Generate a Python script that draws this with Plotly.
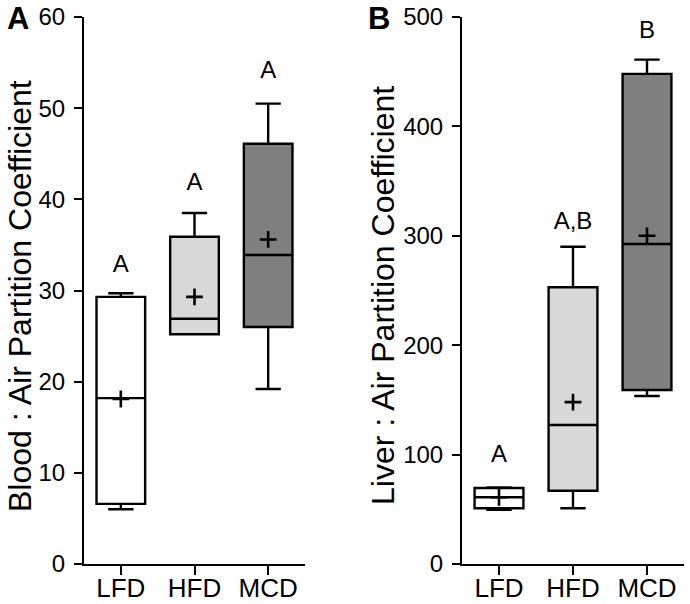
import plotly.graph_objects as go

categories = ["LFD", "HFD", "MCD"]
fills = ["#ffffff", "#d9d9d9", "#7f7f7f"]

# Panel A: Blood : Air
a_low = [6.0, 25.2, 19.2]
a_q1 = [6.6, 25.2, 26.0]
a_med = [18.2, 26.9, 33.9]
a_q3 = [29.3, 35.9, 46.1]
a_high = [29.7, 38.5, 50.5]
a_mean = [18.1, 29.3, 35.6]
a_letters = ["A", "A", "A"]
a_letter_y = [32.7, 41.7, 54.0]

# Panel B: Liver : Air
b_low = [49.5, 51.0, 153.5]
b_q1 = [51.0, 67.0, 159.0]
b_med = [61.0, 127.0, 292.5]
b_q3 = [69.5, 253.0, 448.0]
b_high = [70.0, 290.0, 461.0]
b_mean = [61.0, 148.0, 300.0]
b_letters = ["A", "A,B", "B"]
b_letter_y = [99.0, 312.0, 486.0]

W, H = 690, 604
FONT = "Liberation Sans, Arial, sans-serif"

fig = go.Figure()

def add_panel(xa, ya, low, q1, med, q3, high, mean, letters, ly):
    for i, c in enumerate(categories):
        fig.add_trace(go.Box(
            x=[c], q1=[q1[i]], median=[med[i]], q3=[q3[i]],
            lowerfence=[low[i]], upperfence=[high[i]],
            width=0.66, whiskerwidth=0.52,
            fillcolor=fills[i], line=dict(color="black", width=2.4),
            xaxis=xa, yaxis=ya, showlegend=False, hoverinfo="skip",
        ))
    fig.add_trace(go.Scatter(
        x=categories, y=mean, mode="markers",
        marker=dict(symbol="cross-thin", size=12, line=dict(color="black", width=2.6)),
        xaxis=xa, yaxis=ya, showlegend=False, hoverinfo="skip",
    ))
    fig.add_trace(go.Scatter(
        x=categories, y=ly, mode="text", text=letters,
        textfont=dict(family=FONT, size=24, color="black"),
        xaxis=xa, yaxis=ya, showlegend=False, hoverinfo="skip",
    ))

add_panel("x", "y", a_low, a_q1, a_med, a_q3, a_high, a_mean, a_letters, a_letter_y)
add_panel("x2", "y2", b_low, b_q1, b_med, b_q3, b_high, b_mean, b_letters, b_letter_y)

ydom = [(H - 564) / H, (H - 17) / H]
axis_common = dict(showline=True, linecolor="black", linewidth=2, ticks="outside",
                   tickcolor="black", tickwidth=2, showgrid=False, zeroline=False,
                   color="black", automargin=False)

fig.update_layout(
    template="none",
    width=W, height=H, margin=dict(l=0, r=0, t=0, b=0, pad=0),
    paper_bgcolor="white", plot_bgcolor="white",
    font=dict(family=FONT, color="black"),
    xaxis=dict(domain=[84 / W, 305 / W], range=[-0.5, 2.5], type="category",
               categoryorder="array", categoryarray=categories, ticklen=9,
               tickfont=dict(size=26), anchor="y", **axis_common),
    yaxis=dict(domain=ydom, range=[0, 60], tickvals=[0, 10, 20, 30, 40, 50, 60],
               ticklen=8, tickfont=dict(size=24), anchor="x", **axis_common),
    xaxis2=dict(domain=[462 / W, 684 / W], range=[-0.5, 2.5], type="category",
                categoryorder="array", categoryarray=categories, ticklen=9,
                tickfont=dict(size=26), anchor="y2", **axis_common),
    yaxis2=dict(domain=ydom, range=[0, 500], tickvals=[0, 100, 200, 300, 400, 500],
                ticklen=8, tickfont=dict(size=24), anchor="x2", **axis_common),
    annotations=[
        dict(text="Blood : Air Partition Coefficient", x=20 / W, y=(H - 296) / H,
             xref="paper", yref="paper", textangle=-90, showarrow=False,
             font=dict(size=32, family=FONT), xanchor="center", yanchor="middle"),
        dict(text="Liver : Air Partition Coefficient", x=383 / W, y=(H - 296) / H,
             xref="paper", yref="paper", textangle=-90, showarrow=False,
             font=dict(size=32, family=FONT), xanchor="center", yanchor="middle"),
        dict(text="<b>A</b>", x=18 / W, y=(H - 18) / H, xref="paper", yref="paper",
             showarrow=False, font=dict(size=31, family=FONT), xanchor="center", yanchor="middle"),
        dict(text="<b>B</b>", x=379 / W, y=(H - 18) / H, xref="paper", yref="paper",
             showarrow=False, font=dict(size=31, family=FONT), xanchor="center", yanchor="middle"),
    ],
)

for ax in ("xaxis", "xaxis2"):
    try:
        fig.layout[ax].ticklabelstandoff = -9
    except Exception:
        pass
for ax in ("yaxis", "yaxis2"):
    try:
        fig.layout[ax].ticklabelstandoff = 4
    except Exception:
        pass

fig.write_html(
    "out.html",
    config={"displayModeBar": False, "staticPlot": True},
    post_script="document.body.style.margin='0';document.body.style.padding='0';"
                "document.body.style.overflow='hidden';",
)
